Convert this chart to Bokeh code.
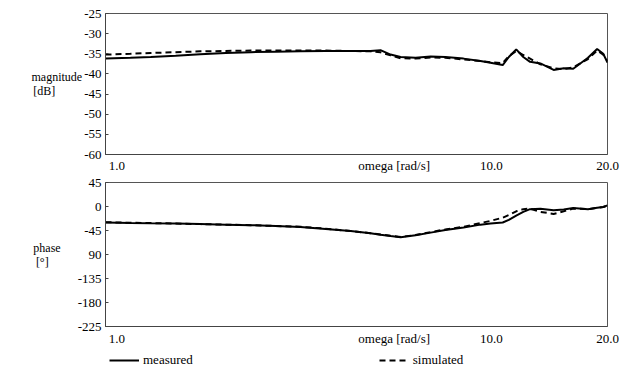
from bokeh.plotting import figure
from bokeh.layouts import column
from bokeh.models import FixedTicker, Legend, LegendItem, Range1d
from bokeh.embed import file_html
from bokeh.resources import INLINE

# ---- data ----
omega = [1.0, 1.16, 1.31, 1.52, 1.76, 2.05, 2.38, 2.76, 3.2, 3.72, 4.32, 4.86,
         5.16, 5.48, 5.82, 6.36, 6.96, 7.6, 8.47, 9.37, 9.95, 10.7, 11.1, 11.6,
         12.1, 12.6, 13.4, 14.5, 15.4, 16.3, 17.8, 18.8, 19.5, 20.0]
mag_measured = [-36.2, -36.0, -35.8, -35.5, -35.1, -34.8, -34.6, -34.5, -34.4, -34.3,
                -34.3, -34.3, -34.1, -35.2, -35.8, -36.0, -35.7, -35.8, -36.2, -36.8,
                -37.2, -37.8, -35.8, -33.9, -35.8, -37.0, -37.4, -39.0, -38.6, -38.7,
                -36.0, -33.8, -35.0, -37.2]
mag_simulated = [-35.2, -35.0, -34.8, -34.6, -34.4, -34.3, -34.2, -34.2, -34.2, -34.2,
                 -34.3, -34.4, -34.6, -35.4, -36.1, -36.2, -35.9, -36.0, -36.4, -36.8,
                 -37.1, -37.3, -35.6, -34.3, -35.3, -36.2, -37.6, -38.6, -38.8, -38.4,
                 -36.3, -34.2, -35.2, -36.8]
phase_measured = [-30, -31, -31.5, -32, -33, -34, -35, -36.5, -38.5, -42,
                  -46, -50, -53, -55.5, -57.5, -54, -49, -44, -39.5, -34,
                  -32, -30, -25, -17, -10, -5, -4, -7, -5.5, -3,
                  -5, -2.5, -1, 2]
phase_simulated = [-29.5, -30.5, -31, -32, -33, -34, -35, -36.5, -38, -41.5,
                   -46, -50, -52.5, -55, -57, -53.5, -48, -43, -38, -31,
                   -27, -21, -16, -9, -5, -4, -10, -14, -9, -4,
                   -5, -2.5, -1, 1.5]

x_ticks = [1, 5.6, 10, 20]
x_tick_labels = {1: "\u00a0" * 7 + "1.0", 5.6: "omega [rad/s]", 10: "10.0", 20: "20.0"}
mag_ticks = [-60, -55, -50, -45, -40, -35, -30, -25]
mag_tick_labels = {v: str(v) for v in mag_ticks}
phase_ticks = [-225, -180, -135, -90, -45, 0, 45]
phase_tick_labels = {v: str(v) for v in phase_ticks}
phase_tick_labels[-90] = "90"   # as printed in the reference

FONT = "Liberation Serif"
FS = "13px"
NB = "\u00a0"


def style(p, x_standoff):
    p.xgrid.visible = False
    p.ygrid.visible = False
    p.outline_line_color = "#555555"
    p.outline_line_width = 1
    p.background_fill_color = "white"
    p.border_fill_color = "white"
    for ax in list(p.xaxis) + list(p.yaxis):
        ax.major_label_text_font = FONT
        ax.major_label_text_font_size = FS
        ax.major_label_text_color = "black"
        ax.minor_tick_line_color = None
        ax.major_tick_in = 3
        ax.major_tick_out = 0
        ax.axis_line_color = "#444444"
        ax.major_tick_line_color = "#444444"
        ax.major_label_standoff = 4
    p.xaxis.ticker = FixedTicker(ticks=x_ticks)
    p.xaxis.major_label_overrides = x_tick_labels
    p.xaxis.major_tick_in = 0
    p.xaxis.major_label_standoff = x_standoff


def set_ylabel(p, text, standoff):
    ax = p.yaxis[0]
    ax.axis_label = text
    ax.axis_label_text_font = FONT
    ax.axis_label_text_font_size = "12px"
    ax.axis_label_text_font_style = "normal"
    ax.axis_label_text_color = "black"
    ax.axis_label_standoff = standoff
    ax.axis_label_text_align = "left"
    ax.axis_label_text_line_height = 1.0
    try:
        ax.axis_label_orientation = "horizontal"
    except Exception:
        pass


# ---- magnitude ----
p1 = figure(width=626, height=175, x_axis_type="log", x_range=Range1d(1, 20),
            y_range=Range1d(-60, -25), output_backend="svg", toolbar_location=None,
            min_border_left=105, min_border_right=19, min_border_top=13,
            min_border_bottom=19)
style(p1, 3)
p1.yaxis.ticker = FixedTicker(ticks=mag_ticks)
p1.yaxis.major_label_overrides = mag_tick_labels
set_ylabel(p1, "magnitude\n[dB]" + NB * 9, -1)
p1.line(omega, mag_measured, line_color="black", line_width=2)
p1.line(omega, mag_simulated, line_color="black", line_width=2, line_dash="6 4")

# ---- phase ----
p2 = figure(width=626, height=173, x_axis_type="log", x_range=Range1d(1, 20),
            y_range=Range1d(-225, 45), output_backend="svg", toolbar_location=None,
            min_border_left=105, min_border_right=19, min_border_top=7,
            min_border_bottom=22)
style(p2, 4)
p2.yaxis.ticker = FixedTicker(ticks=phase_ticks)
p2.yaxis.major_label_overrides = phase_tick_labels
set_ylabel(p2, "phase\n[°]" + NB * 4, 14)
p2.line(omega, phase_measured, line_color="black", line_width=2)
p2.line(omega, phase_simulated, line_color="black", line_width=2, line_dash="6 4")

# ---- legend strip ----
p3 = figure(width=626, height=24, output_backend="svg", toolbar_location=None,
            x_axis_location=None, y_axis_location=None,
            min_border_left=105, min_border_right=19, min_border_top=0,
            min_border_bottom=0)
p3.xgrid.visible = False
p3.ygrid.visible = False
p3.outline_line_color = None
nan = float("nan")
r_meas = p3.line([nan], [nan], line_color="black", line_width=2)
r_sim = p3.line([nan], [nan], line_color="black", line_width=2, line_dash="6 4")
legend = Legend(items=[LegendItem(label="measured", renderers=[r_meas]),
                       LegendItem(label="simulated", renderers=[r_sim])],
                orientation="horizontal", location="top_left", spacing=186,
                glyph_width=30, glyph_height=14, label_standoff=4, label_height=14,
                padding=0, margin=4, border_line_color=None,
                background_fill_alpha=0, label_text_font=FONT,
                label_text_font_size=FS, label_text_color="black")
p3.add_layout(legend)

layout = column(p1, p2, p3, spacing=0)
open("out.html", "w").write(file_html(layout, INLINE))
